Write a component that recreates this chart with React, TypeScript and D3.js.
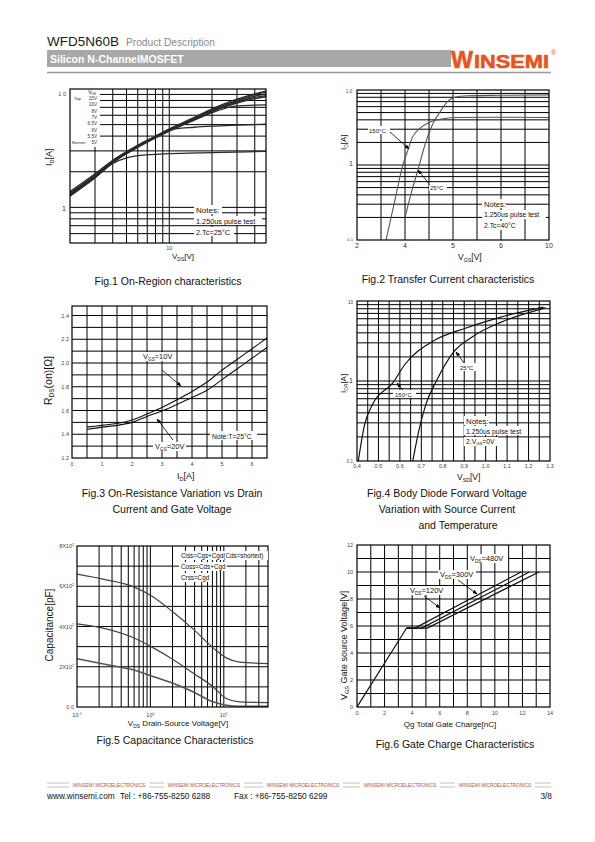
import React from "react";
import * as d3 from "d3";

type Pt = [number, number];
const FONT = "'Liberation Sans', Arial, Helvetica, sans-serif";

// ===== Fig.1 On-Region characteristics =====
const fig1XGrid = [3, 4, 5, 6, 7, 8, 9, 10, 20, 30, 40];
const fig1YGrid = [0.6, 0.7, 0.8, 0.9, 1, 2, 3, 4, 5, 6, 7, 8, 9];
const fig1VgsLabels = ["15V", "10V", "8V", "7V", "6.5V", "6V", "5.5V", "5V"];
const fig1Vgs15: Pt[] = [[2, 1.36], [3, 1.92], [4, 2.5], [6, 3.35], [8, 4.0], [10, 4.6], [15, 5.75], [20, 6.8], [30, 8.2], [40, 9.1], [48, 9.6]];
const fig1Vgs10: Pt[] = [[2, 1.33], [3, 1.88], [4, 2.48], [6, 3.32], [8, 3.97], [10, 4.55], [15, 5.65], [20, 6.7], [30, 8.0], [40, 8.95], [48, 9.4]];
const fig1Vgs8: Pt[] = [[2, 1.3], [3, 1.85], [4, 2.45], [6, 3.3], [8, 3.95], [10, 4.5], [15, 5.6], [20, 6.6], [30, 7.85], [40, 8.7], [48, 9.1]];
const fig1Vgs7: Pt[] = [[2, 1.28], [3, 1.82], [4, 2.42], [6, 3.27], [8, 3.92], [10, 4.46], [15, 5.55], [20, 6.5], [30, 7.7], [40, 8.5], [48, 8.8]];
const fig1Vgs65: Pt[] = [[2, 1.26], [3, 1.8], [4, 2.4], [6, 3.25], [8, 3.9], [10, 4.43], [15, 5.5], [20, 6.45], [30, 7.6], [40, 8.3], [48, 8.6]];
const fig1Vgs6: Pt[] = [[2, 1.25], [3, 1.78], [4, 2.38], [6, 3.22], [8, 3.86], [10, 4.4], [15, 5.45], [20, 6.3], [25, 6.9], [30, 7.2], [40, 7.3], [48, 7.35]];
const fig1Vgs55: Pt[] = [[2, 1.27], [3, 1.8], [4, 2.4], [6, 3.22], [8, 3.9], [10, 4.45], [11, 4.6], [15, 4.75], [20, 4.85], [30, 4.95], [48, 5.05]];
const fig1Vgs5: Pt[] = [[2, 1.25], [3, 1.78], [4, 2.35], [5, 2.62], [6, 2.74], [8, 2.8], [10, 2.84], [20, 2.9], [48, 2.97]];
const fig1Series = [fig1Vgs15, fig1Vgs10, fig1Vgs8, fig1Vgs7, fig1Vgs65, fig1Vgs6, fig1Vgs55, fig1Vgs5];

// ===== Fig.2 Transfer characteristics =====
const fig2XGrid = [3, 4, 5, 6, 7, 8, 9];
const fig2XTicks = [2, 4, 6, 8, 10];
const fig2XTickLabels = ["2", "4", "5", "6", "10"];
const fig2YGrid = [0.2, 0.3, 0.4, 0.5, 0.6, 0.7, 0.8, 0.9, 1, 2, 3, 4, 5, 6, 7, 8, 9];
const fig2T150: Pt[] = [[3.21, 0.1], [3.58, 0.34], [3.92, 1.03], [4.12, 1.58], [4.3, 2.3], [4.63, 3.1], [5.0, 3.7], [5.46, 4.06], [6.1, 4.3], [8, 4.33], [10, 4.3]];
const fig2T25: Pt[] = [[4.0, 0.2], [4.29, 0.46], [4.54, 0.86], [4.83, 1.85], [5.17, 3.6], [5.46, 5.1], [5.75, 6.9], [6.0, 7.9], [6.6, 8.4], [8, 8.5], [10, 8.6]];

// ===== Fig.3 On-resistance =====
const fig3XTicks = [0, 1, 2, 3, 4, 5, 6];
const fig3YTicks = [1.2, 1.4, 1.6, 1.8, 2.0, 2.2, 2.4];
const fig3Vgs10: Pt[] = [[0.5, 1.46], [1, 1.475], [1.5, 1.49], [2, 1.52], [2.5, 1.57], [3, 1.625], [3.5, 1.69], [4, 1.76], [4.5, 1.84], [5, 1.94], [5.5, 2.03], [6, 2.12], [6.5, 2.21]];
const fig3Vgs20: Pt[] = [[0.5, 1.44], [1, 1.46], [1.5, 1.475], [2, 1.5], [2.5, 1.55], [3, 1.595], [3.5, 1.65], [4, 1.71], [4.5, 1.77], [5, 1.86], [5.5, 1.95], [6, 2.04], [6.5, 2.13]];

// ===== Fig.4 Body diode =====
const fig4XTicks = [0.4, 0.5, 0.6, 0.7, 0.8, 0.9, 1.0, 1.1, 1.2, 1.3];
const fig4YGrid = [0.2, 0.3, 0.4, 0.5, 0.6, 0.7, 0.8, 0.9, 1, 2, 3, 4, 5, 6, 7, 8, 9];
const fig4T150: Pt[] = [[0.406, 0.1], [0.435, 0.28], [0.474, 0.52], [0.569, 0.96], [0.624, 1.62], [0.75, 3.1], [0.909, 4.6], [1.067, 6.25], [1.27, 8.4]];
const fig4T25: Pt[] = [[0.66, 0.1], [0.69, 0.25], [0.72, 0.5], [0.77, 1.0], [0.85, 2.3], [0.94, 3.6], [1.07, 5.4], [1.28, 8.2]];

// ===== Fig.5 Capacitance =====
const fig5XGrid = [0.2, 0.3, 0.4, 0.5, 0.6, 0.7, 0.8, 0.9, 1, 2, 3, 4, 5, 6, 7, 8, 9, 10, 20, 30];
const fig5YGrid = [100, 200, 300, 400, 500, 600, 700];
const fig5YTicks = [0, 200, 400, 600, 800];
const fig5Vds = [0.1, 0.25, 0.58, 1.08, 2.03, 3.8, 7.1, 10.8, 16.4, 40];
const fig5Ciss = [660, 632, 598, 548, 472, 388, 295, 244, 223, 216];
const fig5Coss = [413, 388, 345, 295, 236, 169, 101, 42, 25, 22];
const fig5Crss = [240, 211, 185, 152, 118, 76, 26, 9, 4, 3];

// ===== Fig.6 Gate charge =====
const fig6XTicks = [0, 2, 4, 6, 8, 10, 12, 14];
const fig6YTicks = [0, 2, 4, 6, 8, 10, 12];
const fig6Rise: Pt[] = [[0, 0], [3.6, 5.85]];
const fig6V120: Pt[] = [[3.6, 5.85], [4.2, 5.85], [11.9, 10]];
const fig6V300: Pt[] = [[3.6, 5.85], [4.7, 5.85], [12.5, 10]];
const fig6V480: Pt[] = [[3.6, 5.85], [5.1, 5.85], [13.2, 10]];

const P1 = { l: 70, r: 266, t: 89, b: 243 };
const P2 = { l: 357, r: 549, t: 90, b: 240 };
const P3 = { l: 72, r: 267, t: 306, b: 458 };
const P4 = { l: 357, r: 550, t: 301, b: 461 };
const P5 = { l: 77, r: 268, t: 546, b: 707 };
const P6 = { l: 357, r: 550, t: 545, b: 707 };

function Frame({ p }: any) {
  return <rect x={p.l} y={p.t} width={p.r - p.l} height={p.b - p.t} fill="none" stroke="#000" strokeWidth={1.2} />;
}
function VGrid({ p, xs, sc }: any) {
  return <g>{xs.map((v: number, i: number) => <line key={i} x1={sc(v)} x2={sc(v)} y1={p.t} y2={p.b} stroke="#000" strokeWidth={1} />)}</g>;
}
function HGrid({ p, ys, sc }: any) {
  return <g>{ys.map((v: number, i: number) => <line key={i} x1={p.l} x2={p.r} y1={sc(v)} y2={sc(v)} stroke="#000" strokeWidth={1} />)}</g>;
}
function Sub({ x, y, base, sub, rest = "", fs, anchor = "start", rot = false, fill = "#111" }: any) {
  return (
    <text x={x} y={y} fontSize={fs} textAnchor={anchor} fill={fill} transform={rot ? `rotate(-90 ${x} ${y})` : undefined}>
      {base}
      <tspan fontSize={fs * 0.62} dy={fs * 0.22}>{sub}</tspan>
      <tspan dy={-fs * 0.22}>{rest}</tspan>
    </text>
  );
}
function Bg({ x, y, w, h }: any) {
  return <rect x={x} y={y} width={w} height={h} fill="#fff" />;
}

const smooth = (x: any, y: any) => d3.line<Pt>().x(d => x(d[0])).y(d => y(d[1])).curve(d3.curveMonotoneX);
const straight = (x: any, y: any) => d3.line<Pt>().x(d => x(d[0])).y(d => y(d[1]));

export default function App() {
  const x1 = d3.scaleLog().domain([2, 48]).range([P1.l, P1.r]);
  const y1 = d3.scaleLog().domain([0.5, 10]).range([P1.b, P1.t]);
  const x2 = d3.scaleLinear().domain([2, 10]).range([P2.l, P2.r]);
  const y2 = d3.scaleLog().domain([0.1, 10]).range([P2.b, P2.t]);
  const x3 = d3.scaleLinear().domain([0, 6.5]).range([P3.l, P3.r]);
  const y3 = d3.scaleLinear().domain([1.2, 2.48]).range([P3.b, P3.t]);
  const x4 = d3.scaleLinear().domain([0.4, 1.3]).range([P4.l, P4.r]);
  const y4 = d3.scaleLog().domain([0.1, 10]).range([P4.b, P4.t]);
  const x5 = d3.scaleLog().domain([0.1, 40]).range([P5.l, P5.r]);
  const y5 = d3.scaleLinear().domain([0, 800]).range([P5.b, P5.t]);
  const x6 = d3.scaleLinear().domain([0, 14]).range([P6.l, P6.r]);
  const y6 = d3.scaleLinear().domain([0, 12]).range([P6.b, P6.t]);

  const l1 = smooth(x1, y1);
  const l2 = smooth(x2, y2);
  const l3 = smooth(x3, y3);
  const l4 = smooth(x4, y4);
  const l5 = smooth(x5, y5);
  const l6 = straight(x6, y6);

  const fig3X05 = d3.range(0.5, 6.5, 0.5);
  const fig3Y01 = d3.range(1.3, 2.48, 0.1);
  const fig4X05 = d3.range(0.45, 1.3, 0.05);
  const fig6XG = d3.range(1, 14, 1);
  const fig6YG = d3.range(1, 12, 1);

  const fig5pts = (vals: number[]) => fig5Vds.map((v, i) => [v, vals[i]] as Pt);

  const tick = { fontSize: 5.5, fill: "#444" };
  const cap = { fontSize: 10.5, fill: "#111", textAnchor: "middle" as const };

  return (
    <svg width={595} height={842} viewBox="0 0 595 842" style={{ position: "absolute", left: 0, top: 0, background: "#fff" }} fontFamily={FONT}>
      <defs>
        <marker id="ah" viewBox="0 0 10 10" refX="9" refY="5" markerWidth="6" markerHeight="6" orient="auto">
          <path d="M0,1 L10,5 L0,9 z" fill="#000" />
        </marker>
        {[P1, P2, P3, P4, P5, P6].map((p, i) => (
          <clipPath key={i} id={`c${i + 1}`}><rect x={p.l} y={p.t} width={p.r - p.l} height={p.b - p.t} /></clipPath>
        ))}
      </defs>
      <rect x={0} y={0} width={595} height={842} fill="#fff" />

      {/* Header */}
      <text x={47} y={46} fontSize={13.5} fill="#1a1a1a">WFD5N60B</text>
      <text x={126} y={46} fontSize={10.2} fill="#8a8a8a">Product Description</text>
      <rect x={47} y={50} width={404} height={17} fill="#a8a8a8" />
      <text x={50} y={62.5} fontSize={10.5} fontWeight="bold" fill="#fff">Silicon N-ChannelMOSFET</text>
      <line x1={47} x2={551} y1={72.5} y2={72.5} stroke="#9a9a9a" strokeWidth={1.5} />
      <text x={451} y={68} fontSize={23} fill="#e9541d" fontWeight="bold" stroke="#e9541d" strokeWidth={0.6} textLength={22} lengthAdjust="spacingAndGlyphs">W</text>
      <text x={474} y={68} fontSize={18.5} fill="#e9541d" fontWeight="bold" stroke="#e9541d" strokeWidth={0.6} textLength={75} lengthAdjust="spacingAndGlyphs">INSEMI</text>
      <text x={551} y={55} fontSize={7} fill="#e9541d">®</text>

      {/* ===== Fig 1 ===== */}
      <g>
        <VGrid p={P1} xs={fig1XGrid} sc={x1} />
        <HGrid p={P1} ys={fig1YGrid} sc={y1} />
        <rect x={P1.l} y={P1.t} width={30} height={58} fill="#fff" />
        <g clipPath="url(#c1)">
          {fig1Series.map((s, i) => <path key={i} d={l1(s) || ""} fill="none" stroke="#2a2a2a" strokeWidth={1.3} />)}
        </g>
        <Frame p={P1} />
        <Sub x={96} y={94} base="V" sub="GS" fs={5} anchor="end" />
        {fig1VgsLabels.map((t, i) => (
          <text key={i} x={97} y={100 + i * 6.3} fontSize={4.6} textAnchor="end" fill="#333">{t}</text>
        ))}
        <text x={74} y={100} fontSize={4.3} fill="#333">Top</text>
        <text x={72} y={100 + 7 * 6.3} fontSize={4.3} fill="#333">Bottom</text>
        <Bg x={194} y={205} w={28} h={9} />
        <Bg x={194} y={216} w={68} h={9} />
        <Bg x={194} y={227} w={40} h={9} />
        <text x={196} y={212.5} fontSize={8} fill="#111">Notes:</text>
        <text x={196} y={223.5} fontSize={7.3} fill="#111">1.250us pulse test</text>
        <text x={196} y={234.5} fontSize={7.3} fill="#111">2.Tc=25°C</text>
        <text x={66} y={96} {...tick} textAnchor="end">1 0</text>
        <text x={66} y={211} fontSize={7} fill="#333" textAnchor="end">1</text>
        <text x={x1(10)} y={250} {...tick} textAnchor="middle">10</text>
        <Sub x={172} y={259} base="V" sub="DS" rest="[V]" fs={8} />
        <Sub x={52} y={166} base="I" sub="D" rest="[A]" fs={9} rot />
        <text x={168} y={285} {...cap}>Fig.1 On-Region characteristics</text>
      </g>

      {/* ===== Fig 2 ===== */}
      <g>
        <VGrid p={P2} xs={fig2XGrid} sc={x2} />
        <HGrid p={P2} ys={fig2YGrid} sc={y2} />
        <g clipPath="url(#c2)">
          <path d={l2(fig2T150) || ""} fill="none" stroke="#555" strokeWidth={1.1} />
          <path d={l2(fig2T25) || ""} fill="none" stroke="#555" strokeWidth={1.1} />
        </g>
        <Frame p={P2} />
        <Bg x={368} y={126} w={22} h={8} />
        <text x={369} y={132.5} fontSize={6} fill="#222">150°C</text>
        <line x1={390} y1={132} x2={409} y2={149} stroke="#000" strokeWidth={0.8} markerEnd="url(#ah)" />
        <Bg x={429} y={183} w={18} h={8} />
        <text x={430} y={189.5} fontSize={6} fill="#222">25°C</text>
        <line x1={430} y1={185} x2={418} y2={170} stroke="#000" strokeWidth={0.8} markerEnd="url(#ah)" />
        <Bg x={482} y={199} w={24} h={9} />
        <Bg x={482} y={210} w={64} h={9} />
        <Bg x={482} y={221} w={38} h={9} />
        <text x={484} y={206.5} fontSize={7.6} fill="#111">Notes:</text>
        <text x={484} y={217} fontSize={6.8} fill="#111">1.250us pulse test</text>
        <text x={484} y={228} fontSize={6.8} fill="#111">2.Tc=40°C</text>
        <text x={352} y={93} fontSize={4.5} fill="#444" textAnchor="end">1.0</text>
        <text x={353} y={166} fontSize={7} fill="#333" textAnchor="end">1</text>
        <text x={353} y={241} fontSize={4.2} fill="#444" textAnchor="end">0.1</text>
        {fig2XTicks.map((v, i) => (
          <text key={i} x={x2(v)} y={248} fontSize={7} fill="#333" textAnchor="middle">{fig2XTickLabels[i]}</text>
        ))}
        <Sub x={458} y={260} base="V" sub="GS" rest="[V]" fs={8.5} />
        <Sub x={346} y={150} base="I" sub="D" rest="[A]" fs={8} rot />
        <text x={448} y={283} {...cap}>Fig.2 Transfer Current characteristics</text>
      </g>

      {/* ===== Fig 3 ===== */}
      <g>
        <VGrid p={P3} xs={fig3X05} sc={x3} />
        <HGrid p={P3} ys={fig3Y01} sc={y3} />
        <g clipPath="url(#c3)">
          <path d={l3(fig3Vgs10) || ""} fill="none" stroke="#111" strokeWidth={1.1} />
          <path d={l3(fig3Vgs20) || ""} fill="none" stroke="#111" strokeWidth={1.1} />
        </g>
        <Frame p={P3} />
        <Bg x={141} y={352} w={33} h={9} />
        <Sub x={143} y={359} base="V" sub="GS" rest="=10V" fs={7.5} />
        <line x1={162} y1={370} x2={181} y2={386} stroke="#000" strokeWidth={0.8} markerEnd="url(#ah)" />
        <Bg x={153} y={442} w={33} h={9} />
        <Sub x={155} y={449} base="V" sub="GS" rest="=20V" fs={7.5} />
        <line x1={173} y1={440} x2={157} y2={419} stroke="#000" strokeWidth={0.8} markerEnd="url(#ah)" />
        <Bg x={210} y={431} w={47} h={9} />
        <text x={212} y={438.5} fontSize={6.8} fill="#111">Note:T=25°C</text>
        {fig3XTicks.map((v, i) => <text key={i} x={x3(v)} y={466} {...tick} textAnchor="middle">{v}</text>)}
        {fig3YTicks.map((v, i) => <text key={i} x={69} y={y3(v) + 2} {...tick} textAnchor="end">{v.toFixed(1)}</text>)}
        <Sub x={177} y={479} base="I" sub="D" rest="[A]" fs={9} />
        <Sub x={52} y={405} base="R" sub="DS" rest="(on)[Ω]" fs={10.5} rot />
        <text x={172} y={497} {...cap}>Fig.3 On-Resistance Variation vs Drain</text>
        <text x={172} y={513} {...cap}>Current and Gate Voltage</text>
      </g>

      {/* ===== Fig 4 ===== */}
      <g>
        <VGrid p={P4} xs={fig4X05} sc={x4} />
        <HGrid p={P4} ys={fig4YGrid} sc={y4} />
        <g clipPath="url(#c4)">
          <path d={l4(fig4T150) || ""} fill="none" stroke="#111" strokeWidth={1.2} />
          <path d={l4(fig4T25) || ""} fill="none" stroke="#111" strokeWidth={1.2} />
        </g>
        <Frame p={P4} />
        <Bg x={393} y={390} w={23} h={8} />
        <text x={395} y={396.5} fontSize={6} fill="#222">150°C</text>
        <line x1={403} y1={390} x2={397} y2={383} stroke="#000" strokeWidth={0.8} markerEnd="url(#ah)" />
        <Bg x={458} y={363} w={18} h={8} />
        <text x={460} y={369.5} fontSize={6} fill="#222">25°C</text>
        <line x1={464} y1={363} x2={456} y2={352} stroke="#000" strokeWidth={0.8} markerEnd="url(#ah)" />
        <Bg x={464} y={416} w={25} h={9} />
        <Bg x={464} y={426} w={62} h={9} />
        <Bg x={464} y={437} w={34} h={9} />
        <text x={466} y={423.5} fontSize={7.8} fill="#111">Notes:</text>
        <text x={466} y={433.5} fontSize={6.8} fill="#111">1.250us pulse test</text>
        <Sub x={466} y={444} base="2.V" sub="GS" rest="=0V" fs={6.8} />
        {fig4XTicks.map((v, i) => <text key={i} x={x4(v)} y={468} {...tick} textAnchor="middle">{v.toFixed(1)}</text>)}
        <text x={353} y={304} fontSize={4.5} fill="#444" textAnchor="end">10</text>
        <text x={353} y={383} fontSize={7} fill="#333" textAnchor="end">1</text>
        <text x={353} y={463} fontSize={4.5} fill="#444" textAnchor="end">0.1</text>
        <Sub x={457} y={480} base="V" sub="SD" rest="[V]" fs={8.5} />
        <Sub x={346} y={393} base="I" sub="DR" rest="[A]" fs={8} rot />
        <text x={447} y={497} {...cap}>Fig.4 Body Diode Forward Voltage</text>
        <text x={447} y={513} {...cap}>Variation with Source Current</text>
        <text x={458} y={529} {...cap}>and Temperature</text>
      </g>

      {/* ===== Fig 5 ===== */}
      <g>
        <VGrid p={P5} xs={fig5XGrid} sc={x5} />
        <HGrid p={P5} ys={fig5YGrid} sc={y5} />
        <g clipPath="url(#c5)">
          <path d={l5(fig5pts(fig5Ciss)) || ""} fill="none" stroke="#444" strokeWidth={1.2} />
          <path d={l5(fig5pts(fig5Coss)) || ""} fill="none" stroke="#444" strokeWidth={1.2} />
          <path d={l5(fig5pts(fig5Crss)) || ""} fill="none" stroke="#555" strokeWidth={1.6} />
        </g>
        <Frame p={P5} />
        <Bg x={179} y={551} w={89} h={9} />
        <Bg x={179} y={562} w={48} h={9} />
        <Bg x={179} y={573} w={32} h={9} />
        <text x={181} y={558} fontSize={6.3} fill="#111">Ciss=Cgs+Cgd(Cds=shorted)</text>
        <text x={181} y={569} fontSize={6.3} fill="#111">Coss=Cds+Cgd</text>
        <text x={181} y={580} fontSize={6.3} fill="#111">Crss=Cgd</text>
        {fig5YTicks.map((v, i) => (
          v === 0
            ? <text key={i} x={74} y={y5(v) + 2} {...tick} textAnchor="end">0.0</text>
            : <text key={i} x={74} y={y5(v) + 2} {...tick} textAnchor="end">{`${v / 100}X10`}<tspan fontSize={3.6} dy={-2.2}>2</tspan></text>
        ))}
        {[0.1, 1, 10].map((v, i) => (
          <text key={i} x={x5(v)} y={717} {...tick} textAnchor="middle">10<tspan fontSize={3.6} dy={-2.2}>{["-1", "0", "1"][i]}</tspan></text>
        ))}
        <text x={178} y={726} fontSize={8} textAnchor="middle" fill="#111">V<tspan fontSize={5} dy={1.8}>DS</tspan><tspan dy={-1.8}>  Drain-Source Voltage[V]</tspan></text>
        <text x={53} y={625} fontSize={10} textAnchor="middle" fill="#111" transform="rotate(-90 53 625)">Capacitance[pF]</text>
        <text x={175} y={744} {...cap}>Fig.5 Capacitance Characteristics</text>
      </g>

      {/* ===== Fig 6 ===== */}
      <g>
        <VGrid p={P6} xs={fig6XG} sc={x6} />
        <HGrid p={P6} ys={fig6YG} sc={y6} />
        <g clipPath="url(#c6)">
          {[fig6Rise, fig6V120, fig6V300, fig6V480].map((s, i) => <path key={i} d={l6(s) || ""} fill="none" stroke="#111" strokeWidth={1.2} />)}
        </g>
        <Frame p={P6} />
        <Bg x={468} y={554} w={40} h={9} />
        <Sub x={470} y={561} base="V" sub="DS" rest="=480V" fs={7.5} />
        <Bg x={438} y={570} w={38} h={9} />
        <Sub x={440} y={577} base="V" sub="DS" rest="=300V" fs={7.5} />
        <line x1={458} y1={580} x2={477} y2={594} stroke="#000" strokeWidth={0.8} markerEnd="url(#ah)" />
        <Bg x={408} y={586} w={38} h={9} />
        <Sub x={410} y={593} base="V" sub="DS" rest="=120V" fs={7.5} />
        <line x1={424} y1={596} x2={440} y2={608} stroke="#000" strokeWidth={0.8} markerEnd="url(#ah)" />
        {fig6XTicks.map((v, i) => <text key={i} x={x6(v)} y={715} {...tick} textAnchor="middle">{v}</text>)}
        {fig6YTicks.map((v, i) => <text key={i} x={353} y={y6(v) + 2} {...tick} textAnchor="end">{v}</text>)}
        <text x={450} y={727} fontSize={8} textAnchor="middle" fill="#111">Qg Total Gate Charge[nC]</text>
        <Sub x={347} y={700} base="V" sub="GS" rest=" Gate source Voltage[V]" fs={9} rot />
        <text x={455} y={748} {...cap}>Fig.6 Gate Charge Characteristics</text>
      </g>

      {/* Footer */}
      <line x1={47} x2={551} y1={783} y2={783} stroke="#b0b0b0" strokeWidth={0.8} />
      <line x1={47} x2={551} y1={787} y2={787} stroke="#b0b0b0" strokeWidth={0.8} />
      {[109, 204, 303, 400, 495].map((cx, i) => (
        <g key={i}>
          <rect x={cx - 40} y={782} width={80} height={6} fill="#fff" />
          <text x={cx} y={787} fontSize={4.8} textAnchor="middle" fill="#b5523b">WINSEMI  MICROELECTRONICS</text>
        </g>
      ))}
      <text x={47} y={799} fontSize={8.3} fill="#111">www.winsemi.com</text>
      <text x={120} y={799} fontSize={8.3} fill="#111">Tel : +86-755-8250 6288</text>
      <text x={234} y={799} fontSize={8.3} fill="#111">Fax : +86-755-8250 6299</text>
      <text x={552} y={799} fontSize={8.3} fill="#111" textAnchor="end">3/8</text>
    </svg>
  );
}
